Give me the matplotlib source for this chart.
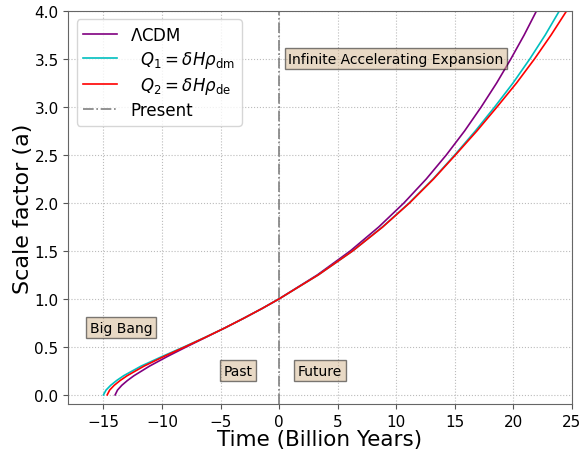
import numpy as np
import matplotlib.pyplot as plt

# ─────────────────────────────────────────────
#  Scale factor vs cosmic time for the three models
#  (time in Gyr, 0 = present)
# ─────────────────────────────────────────────
SCALE = [0.0, 0.05, 0.1, 0.15, 0.2, 0.3, 0.4, 0.5, 0.6, 0.7, 0.8, 0.9,
         1.0, 1.25, 1.5, 1.75, 2.0, 2.25, 2.5, 2.75, 3.0, 3.25, 3.5,
         3.75, 4.0, 4.25]

T_LCDM = [-14.0, -13.80, -13.43, -12.95, -12.39, -11.06, -9.54, -7.92,
          -6.25, -4.59, -2.99, -1.45, 0.0, 3.27, 6.09, 8.52, 10.67,
          12.58, 14.29, 15.85, 17.27, 18.59, 19.80, 20.94, 21.99, 23.00]

T_Q1 = [-15.0, -14.78, -14.38, -13.87, -13.27, -11.78, -9.99, -8.12,
        -6.31, -4.59, -2.99, -1.45, 0.0, 3.35, 6.29, 8.84, 11.12,
        13.16, 15.01, 16.77, 18.42, 19.99, 21.42, 22.74, 23.94, 25.10]

T_Q2 = [-14.68, -14.47, -14.08, -13.57, -12.97, -11.53, -9.84, -8.05,
        -6.29, -4.59, -2.99, -1.45, 0.0, 3.35, 6.29, 8.86, 11.15,
        13.20, 15.07, 16.90, 18.62, 20.29, 21.82, 23.24, 24.56, 25.85]

# annotation boxes: (label, time, scale factor)
NOTES = [
    ("Big Bang", -13.5, 0.7),
    ("Past", -3.5, 0.25),
    ("Future", 3.5, 0.25),
    ("Infinite Accelerating Expansion", 10.0, 3.5),
]

X_TICKS = np.arange(-15, 26, 5)
Y_TICKS = np.arange(0.0, 4.01, 0.5)


# ─────────────────────────────────────────────
#  Figure
# ─────────────────────────────────────────────
fig = plt.figure(figsize=(5.81, 4.52), dpi=100)
ax = fig.add_axes([0.1176, 0.1029, 0.8664, 0.8706])

ax.plot(T_LCDM, SCALE, color="purple", lw=1.2, label=r"$\Lambda$CDM")
ax.plot(T_Q1, SCALE, color="c", lw=1.2,
        label=r"  $Q_1=\delta H\rho_{\rm dm}$")
ax.plot(T_Q2, SCALE, color="red", lw=1.2,
        label=r"  $Q_2=\delta H\rho_{\rm de}$")
ax.axvline(0, color="gray", ls="-.", lw=1.2, label="Present")

for txt, t, a in NOTES:
    ax.text(t, a, txt, ha="center", va="center", fontsize=10,
            bbox=dict(boxstyle="square,pad=0.25", facecolor="tan",
                      alpha=0.5))

ax.set_xlim(-18, 25)
ax.set_ylim(-0.1, 4.0)
ax.set_xticks(X_TICKS)
ax.set_yticks(Y_TICKS)
ax.tick_params(labelsize=11, color="#555555", length=3.5)

ax.grid(True, ls=":", color="#bbbbbb", lw=0.8)
for sp in ax.spines.values():
    sp.set_edgecolor("#666666")

ax.set_xlabel("Time (Billion Years)", fontsize=15.5, labelpad=0)
ax.set_ylabel("Scale factor (a)", fontsize=16, labelpad=1)

ax.legend(loc="upper left", fontsize=12, labelspacing=0.3)

plt.savefig("out.png", dpi=100)
plt.close()
